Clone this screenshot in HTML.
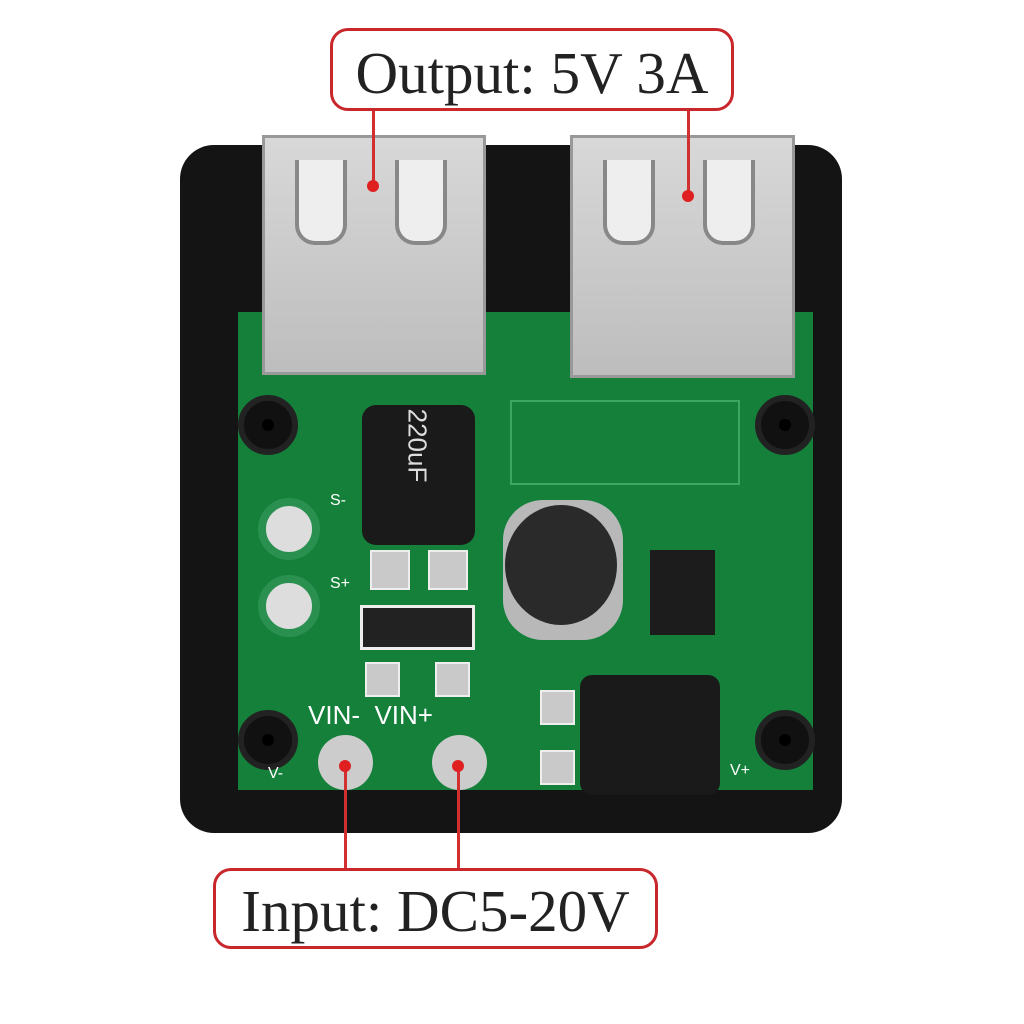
<!DOCTYPE html>
<html><head><style>
body{margin:0;width:1024px;height:1024px;background:#fff;position:relative;overflow:hidden;font-family:"Liberation Serif",serif}
div{position:absolute;box-sizing:border-box}
.lbl{border:3px solid #c8282c;border-radius:18px;background:#fff;color:#222;font-size:59px;text-align:center;white-space:nowrap}
.rl{background:#d03030;width:3px}
.dot{width:12px;height:12px;border-radius:50%;background:#e02020}
.hole{width:60px;height:60px;border-radius:50%;background:#111;border:6px solid #222}
.hole::after{content:"";position:absolute;left:18px;top:18px;width:12px;height:12px;border-radius:50%;background:#000}
.usb{background:linear-gradient(#d8d8d8,#bdbdbd);border:3px solid #999}
.slot{width:52px;height:85px;border:4px solid #888;border-top:none;border-radius:0 0 20px 20px;background:#eee}
.pad{background:#c9c9c9;border:2px solid #eee}
.t{color:#fff;font-family:"Liberation Sans",sans-serif;font-size:12px}
</style></head><body>
<div style="left:180px;top:145px;width:662px;height:688px;background:#141414;border-radius:34px"></div>
<div style="left:238px;top:312px;width:575px;height:478px;background:#14803a"></div>
<div style="left:510px;top:400px;width:230px;height:85px;border:2px solid #3aa860"></div>
<div class="usb" style="left:262px;top:135px;width:224px;height:240px"></div>
<div class="slot" style="left:295px;top:160px"></div><div class="slot" style="left:395px;top:160px"></div>
<div class="usb" style="left:570px;top:135px;width:225px;height:243px"></div>
<div class="slot" style="left:603px;top:160px"></div><div class="slot" style="left:703px;top:160px"></div>
<div class="hole" style="left:238px;top:395px"></div>
<div class="hole" style="left:755px;top:395px"></div>
<div class="hole" style="left:238px;top:710px"></div>
<div class="hole" style="left:755px;top:710px"></div>
<div style="left:362px;top:405px;width:113px;height:140px;background:#1a1a1a;border-radius:14px"></div>
<div class="t" style="left:380px;top:430px;font-size:26px;color:#ddd;transform:rotate(90deg)">220uF</div>
<div style="left:258px;top:498px;width:62px;height:62px;border-radius:50%;background:#ddd;border:8px solid #2a9050"></div>
<div style="left:258px;top:575px;width:62px;height:62px;border-radius:50%;background:#ddd;border:8px solid #2a9050"></div>
<div class="pad" style="left:370px;top:550px;width:40px;height:40px"></div>
<div class="pad" style="left:428px;top:550px;width:40px;height:40px"></div>
<div style="left:360px;top:605px;width:115px;height:45px;background:#222;border:3px solid #eee"></div>
<div class="pad" style="left:365px;top:662px;width:35px;height:35px"></div>
<div class="pad" style="left:435px;top:662px;width:35px;height:35px"></div>
<div style="left:503px;top:500px;width:120px;height:140px;border-radius:40px;background:#b8b8b8"></div>
<div style="left:505px;top:505px;width:112px;height:120px;border-radius:50%;background:#2a2a2a"></div>
<div style="left:650px;top:550px;width:65px;height:85px;background:#1c1c1c"></div>
<div style="left:580px;top:675px;width:140px;height:120px;background:#1a1a1a;border-radius:12px"></div>
<div class="pad" style="left:540px;top:690px;width:35px;height:35px"></div>
<div class="pad" style="left:540px;top:750px;width:35px;height:35px"></div>
<div style="left:318px;top:735px;width:55px;height:55px;border-radius:50%;background:#ccc"></div>
<div style="left:432px;top:735px;width:55px;height:55px;border-radius:50%;background:#ccc"></div>
<div class="t" style="left:308px;top:700px;font-size:26px">VIN-&nbsp;&nbsp;VIN+</div>
<div class="t" style="left:268px;top:765px;font-size:16px">V-</div>
<div class="t" style="left:730px;top:762px;font-size:16px">V+</div>
<div class="t" style="left:330px;top:492px;font-size:16px">S-</div>
<div class="t" style="left:330px;top:575px;font-size:16px">S+</div>
<div class="rl" style="left:372px;top:110px;height:75px"></div><div class="dot" style="left:367px;top:180px"></div>
<div class="rl" style="left:687px;top:110px;height:85px"></div><div class="dot" style="left:682px;top:190px"></div>
<div class="rl" style="left:344px;top:765px;height:105px"></div><div class="dot" style="left:339px;top:760px"></div>
<div class="rl" style="left:457px;top:765px;height:105px"></div><div class="dot" style="left:452px;top:760px"></div>
<div class="lbl" style="left:330px;top:28px;width:404px;height:83px;line-height:84px">Output: 5V 3A</div>
<div class="lbl" style="left:213px;top:868px;width:445px;height:81px;line-height:80px">Input: DC5-20V</div>
</body></html>
